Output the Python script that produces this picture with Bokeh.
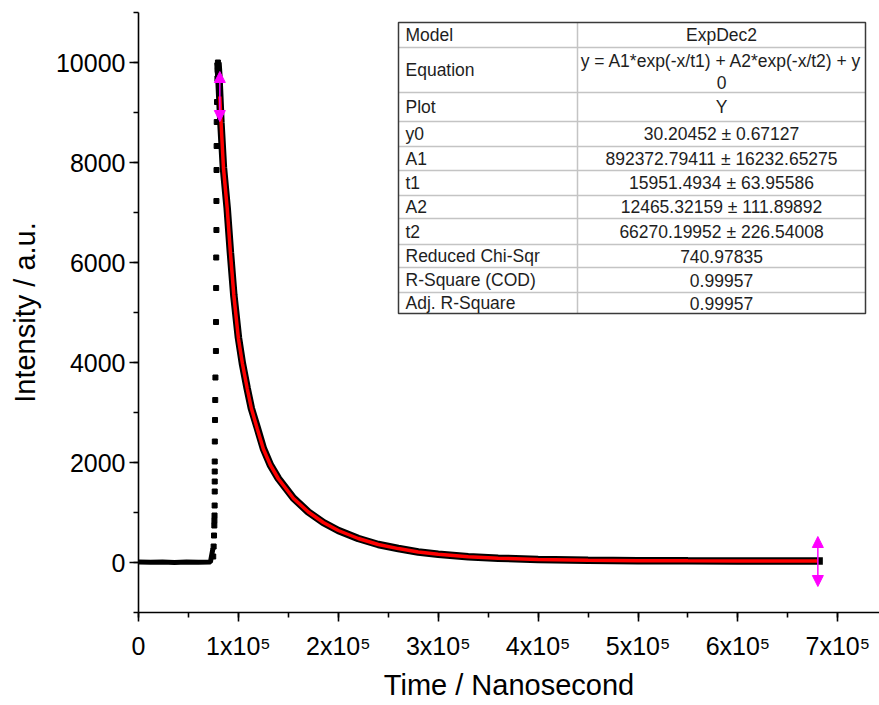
from bokeh.plotting import figure
from bokeh.models import FixedTicker, Arrow, NormalHead, ColumnDataSource
from bokeh.core.properties import value
from bokeh.embed import file_html
from bokeh.resources import INLINE

# ---------------- data ----------------
baseline_x = [0, 12000, 24000, 36000, 48000, 60000, 72000, 74500]
baseline_y = [10, 5, 10, 0, 10, 5, 10, 280]

rise_x = [74800, 75200, 75600, 75900, 76000, 76100, 76200, 76300, 76300, 76300,
          76300, 76400, 76600, 76800, 77000, 77500, 77600, 77700, 77800, 78000,
          78000, 78100, 78200, 78300, 78600, 79000, 79300, 79500]
rise_y = [120, 320, 540, 740, 840, 940, 1140, 1420, 1620, 1820,
          2020, 2420, 2850, 3250, 3700, 4230, 4810, 5490, 6100, 6650,
          7230, 7850, 8330, 8810, 9210, 9680, 9850, 10000]

decay_x = [79500, 80500, 81500, 82500, 85000, 88800, 92000, 95400, 100000, 104000,
           108800, 113000, 118800, 125000, 132000, 140000, 155000, 170000, 185000,
           200000, 220000, 240000, 260000, 280000, 300000, 330000, 360000, 400000,
           450000, 500000, 550000, 600000, 650000, 685000]
decay_y = [10000, 9700, 9250, 8800, 7900, 7080, 6200, 5350, 4500, 3980,
           3480, 3080, 2700, 2280, 1950, 1680, 1290, 1010, 800,
           640, 480, 360, 280, 210, 165, 115, 85, 60,
           45, 36, 33, 32, 31, 30]

fit_x = [81400, 82500, 85000, 88800, 92000, 95400, 100000, 104000,
         108800, 113000, 118800, 125000, 132000, 140000, 155000, 170000, 185000,
         200000, 220000, 240000, 260000, 280000, 300000, 330000, 360000, 400000,
         450000, 500000, 550000, 600000, 650000, 680000]
fit_y = [9320, 8850, 7900, 7080, 6200, 5350, 4480, 3980,
         3480, 3080, 2680, 2270, 1950, 1675, 1285, 1010, 800,
         640, 480, 360, 278, 212, 165, 116, 85, 60,
         44, 36, 33, 32, 31, 30]

# fit-range markers (magenta double arrows)
marker_x = [81400, 680000]
marker_ylo = [8820, -480]
marker_yhi = [9820, 520]

xticks = [0, 100000, 200000, 300000, 400000, 500000, 600000, 700000]
xtick_labels = ["0", "1x10\u2075", "2x10\u2075", "3x10\u2075", "4x10\u2075",
                "5x10\u2075", "6x10\u2075", "7x10\u2075"]
yticks = [0, 2000, 4000, 6000, 8000, 10000]

table_params = ["Model", "Equation", "Plot", "y0", "A1", "t1", "A2", "t2",
                "Reduced Chi-Sqr", "R-Square (COD)", "Adj. R-Square"]
table_values = ["ExpDec2", "y = A1*exp(-x/t1) + A2*exp(-x/t2) + y", "Y",
                "30.20452 \u00b1 0.67127", "892372.79411 \u00b1 16232.65275",
                "15951.4934 \u00b1 63.95586", "12465.32159 \u00b1 111.89892",
                "66270.19952 \u00b1 226.54008", "740.97835", "0.99957", "0.99957"]
equation_cont = "0"

# ---------------- figure ----------------
X_END = 741700
Y_START, Y_END = -1000, 11000
W, H = 879, 705
BL, BT, BB = 138, 12, 93
FW, FH = W - BL, H - BT - BB

p = figure(width=W, height=H, x_range=(0, X_END), y_range=(Y_START, Y_END),
           output_backend="svg", toolbar_location=None,
           min_border_left=BL, min_border_right=0, min_border_top=BT,
           min_border_bottom=BB)
p.outline_line_color = None
p.grid.visible = False
p.background_fill_color = "white"
p.border_fill_color = "white"

FONT = "Liberation Sans"
for ax in (p.xaxis[0], p.yaxis[0]):
    ax.axis_line_width = 1.6
    ax.axis_line_color = "black"
    ax.major_tick_in = 0
    ax.major_tick_out = 9
    ax.minor_tick_in = 0
    ax.minor_tick_out = 5
    ax.major_tick_line_width = 1.6
    ax.minor_tick_line_width = 1.6
    ax.major_tick_line_color = "black"
    ax.minor_tick_line_color = "black"
    ax.major_label_text_font = FONT
    ax.major_label_text_font_size = "25px"
    ax.major_label_text_color = "black"
    ax.axis_label_text_font = FONT
    ax.axis_label_text_font_size = "29px"
    ax.axis_label_text_font_style = "normal"
    ax.axis_label_text_color = "black"

p.xaxis.ticker = FixedTicker(ticks=xticks, minor_ticks=[50000 * i for i in range(15)])
p.xaxis.major_label_overrides = {t: l for t, l in zip(xticks, xtick_labels)}
p.xaxis.major_label_standoff = 10
p.xaxis.axis_label = "Time / Nanosecond"
p.xaxis.axis_label_standoff = 6

p.yaxis.ticker = FixedTicker(ticks=yticks, minor_ticks=[1000 * i for i in range(-1, 12)])
p.yaxis.major_label_standoff = 4
p.yaxis.axis_label = "Intensity / a.u."
p.yaxis.axis_label_standoff = 12

# ---------------- data glyphs ----------------
p.line(baseline_x, baseline_y, line_width=5, color="black")
p.scatter(rise_x, rise_y, marker="square", size=5, color="black")
p.line(decay_x, decay_y, line_width=7.5, color="black")
p.line(fit_x, fit_y, line_width=3.5, color="#ff0000")

msrc = ColumnDataSource(dict(x=marker_x, y0=marker_ylo, y1=marker_yhi))
p.add_layout(Arrow(
    start=NormalHead(size=11, fill_color="#ff00ff", line_color="#ff00ff"),
    end=NormalHead(size=11, fill_color="#ff00ff", line_color="#ff00ff"),
    x_start="x", y_start="y0", x_end="x", y_end="y1", source=msrc,
    line_color="#ff00ff", line_width=1.5))

# ---------------- results table (layout in page pixels) ----------------
def tx(px):
    return (px - BL) / FW * X_END

def ty(py):
    return Y_END - (py - BT) / FH * (Y_END - Y_START)

T_L, T_M, T_R = 398, 577, 865
rows = [22, 47, 92, 121, 146, 170, 195, 218, 244, 267, 292, 313]

p.quad(left=[tx(T_L)], right=[tx(T_R)], top=[ty(rows[0])], bottom=[ty(rows[-1])],
       fill_color="white", line_color=None)
inner = rows[1:-1]
p.segment(x0=[tx(T_L)] * len(inner), x1=[tx(T_R)] * len(inner),
          y0=[ty(r) for r in inner], y1=[ty(r) for r in inner],
          line_color="#c4c4c4", line_width=1.5)
p.segment(x0=[tx(T_M)], x1=[tx(T_M)], y0=[ty(rows[0])], y1=[ty(rows[-1])],
          line_color="#c4c4c4", line_width=1.5)
p.quad(left=[tx(T_L)], right=[tx(T_R)], top=[ty(rows[0])], bottom=[ty(rows[-1])],
       fill_color=None, line_color="#3a3a3a", line_width=1.5)

centers = [(rows[i] + rows[i + 1]) / 2 for i in range(len(rows) - 1)]
val_y = list(centers)
val_y[1] = 60
p.text(x=[tx(405)] * len(table_params), y=[ty(c) for c in centers], text=table_params,
       text_font=value(FONT), text_font_size="17.5px", text_align="left",
       text_baseline="middle", text_color="#1e1e1e")
p.text(x=[tx(721)] * (len(table_values) + 1), y=[ty(c) for c in val_y] + [ty(82)],
       text=table_values + [equation_cont],
       text_font=value(FONT), text_font_size="17.5px", text_align="center",
       text_baseline="middle", text_color="#1e1e1e")

open("out.html", "w").write(file_html(p, INLINE))
